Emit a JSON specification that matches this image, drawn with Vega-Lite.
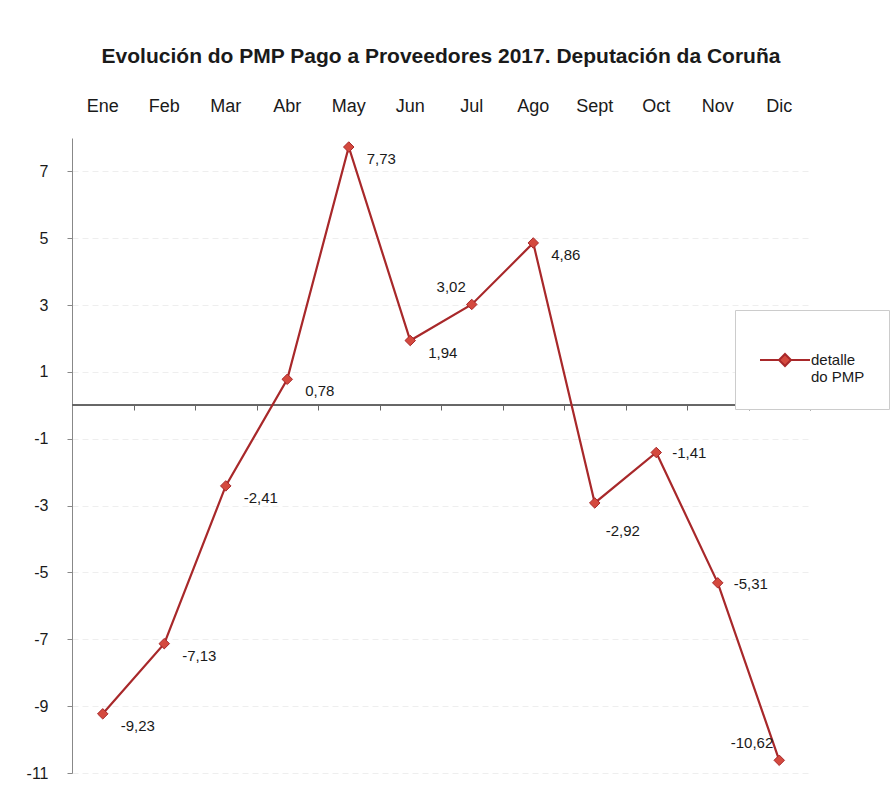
{
  "$schema": "https://vega.github.io/schema/vega-lite/v6.json",
  "width": 738,
  "height": 635,
  "autosize": "none",
  "padding": {"left": 72, "top": 138, "right": 85, "bottom": 13},
  "background": "white",
  "title": {
    "text": "Evolución do PMP Pago a Proveedores 2017. Deputación da Coruña",
    "font": "Liberation Sans",
    "fontSize": 21,
    "fontWeight": "bold",
    "color": "#1a1a1a",
    "anchor": "middle",
    "offset": 30
  },
  "config": {
    "locale": {"number": {"decimal": ",", "thousands": ".", "grouping": [3], "currency": ["", " €"], "minus": "-"}},
    "view": {"stroke": null},
    "font": "Liberation Sans"
  },
  "data": {
    "values": [
      {"mes": "Ene", "pmp": -9.23},
      {"mes": "Feb", "pmp": -7.13},
      {"mes": "Mar", "pmp": -2.41},
      {"mes": "Abr", "pmp": 0.78},
      {"mes": "May", "pmp": 7.73},
      {"mes": "Jun", "pmp": 1.94},
      {"mes": "Jul", "pmp": 3.02},
      {"mes": "Ago", "pmp": 4.86},
      {"mes": "Sept", "pmp": -2.92},
      {"mes": "Oct", "pmp": -1.41},
      {"mes": "Nov", "pmp": -5.31},
      {"mes": "Dic", "pmp": -10.62}
    ]
  },
  "encoding": {
    "x": {"field": "mes", "type": "nominal", "sort": null, "axis": null,
      "scale": {"type": "band", "paddingInner": 0, "paddingOuter": 0}},
    "y": {"field": "pmp", "type": "quantitative", "scale": {"domain": [-11, 8], "nice": false, "zero": false},
      "axis": {"title": null, "values": [-11, -9, -7, -5, -3, -1, 1, 3, 5, 7], "format": "d",
        "labelFontSize": 16, "labelColor": "#1a1a1a", "labelPadding": 19,
        "domainColor": "#888", "tickColor": "#888", "tickSize": 5,
        "grid": true, "gridColor": "#eeeeee", "gridDash": [6, 4]}}
  },
  "layer": [
    {
      "mark": {"type": "rule", "color": "#666", "strokeWidth": 1.2},
      "encoding": {"x": null, "y": {"datum": 0, "type": "quantitative"}}
    },
    {
      "mark": {"type": "line", "strokeWidth": 2.2},
      "encoding": {
        "x": {"field": "mes", "type": "nominal", "sort": null,
          "axis": {"orient": "top", "title": null, "domain": false, "ticks": false, "labelAngle": 0,
            "labelFontSize": 18, "labelColor": "#1a1a1a", "labelPadding": 23, "labelFont": "Liberation Sans"}},
        "color": {"datum": "detalle do PMP", "type": "nominal",
          "scale": {"range": ["#a8282a"]},
          "legend": {
            "title": null, "orient": "none", "legendX": 663, "legendY": 172,
            "fillColor": "white", "strokeColor": "#cccccc", "padding": 24,
            "symbolType": "M-1,0L-0.24,0M0.24,0L1,0M0,-0.24L0.24,0L0,0.24L-0.24,0Z",
            "symbolSize": 2500, "symbolStrokeWidth": 2, "symbolStrokeColor": "#b23a33",
            "symbolFillColor": "#d4493e",
            "labelFontSize": 15, "labelColor": "#1a1a1a", "labelOffset": 0, "labelLimit": 200,
            "labelExpr": "['detalle', 'do PMP']",
            "encode": {"symbols": {"update": {"fill": {"value": "#d4493e"}, "stroke": {"value": "#b23a33"}}}}
          }}
      }
    },
    {
      "mark": {"type": "point", "shape": "diamond", "filled": true, "size": 110, "fill": "#d4493e", "stroke": "#a8282a", "strokeWidth": 1, "opacity": 1},
      "encoding": {
        "x": {"field": "mes", "type": "nominal", "sort": null,
          "axis": {"orient": "bottom", "offset": -368, "title": null, "labels": false, "domain": false,
            "ticks": true, "tickBand": "extent", "tickColor": "#666", "tickSize": 5}}
      }
    },
    {
      "transform": [{"filter": "indexof(['Ene','Feb','Mar','Abr','May','Jun','Ago'], datum.mes) >= 0"}],
      "mark": {"type": "text", "align": "left", "baseline": "middle", "dx": 18, "dy": 12, "fontSize": 15, "color": "#1a1a1a"},
      "encoding": {"text": {"field": "pmp", "type": "quantitative", "format": ".2f"}}
    },
    {
      "transform": [{"filter": "indexof(['Sept'], datum.mes) >= 0"}],
      "mark": {"type": "text", "align": "left", "baseline": "middle", "dx": 11, "dy": 28, "fontSize": 15, "color": "#1a1a1a"},
      "encoding": {"text": {"field": "pmp", "type": "quantitative", "format": ".2f"}}
    },
    {
      "transform": [{"filter": "indexof(['Oct','Nov'], datum.mes) >= 0"}],
      "mark": {"type": "text", "align": "left", "baseline": "middle", "dx": 16, "dy": 1, "fontSize": 15, "color": "#1a1a1a"},
      "encoding": {"text": {"field": "pmp", "type": "quantitative", "format": ".2f"}}
    },
    {
      "transform": [{"filter": "indexof(['Jul','Dic'], datum.mes) >= 0"}],
      "mark": {"type": "text", "align": "right", "baseline": "middle", "dx": -6, "dy": -17, "fontSize": 15, "color": "#1a1a1a"},
      "encoding": {"text": {"field": "pmp", "type": "quantitative", "format": ".2f"}}
    }
  ],
  "resolve": {"axis": {"x": "independent"}}
}
